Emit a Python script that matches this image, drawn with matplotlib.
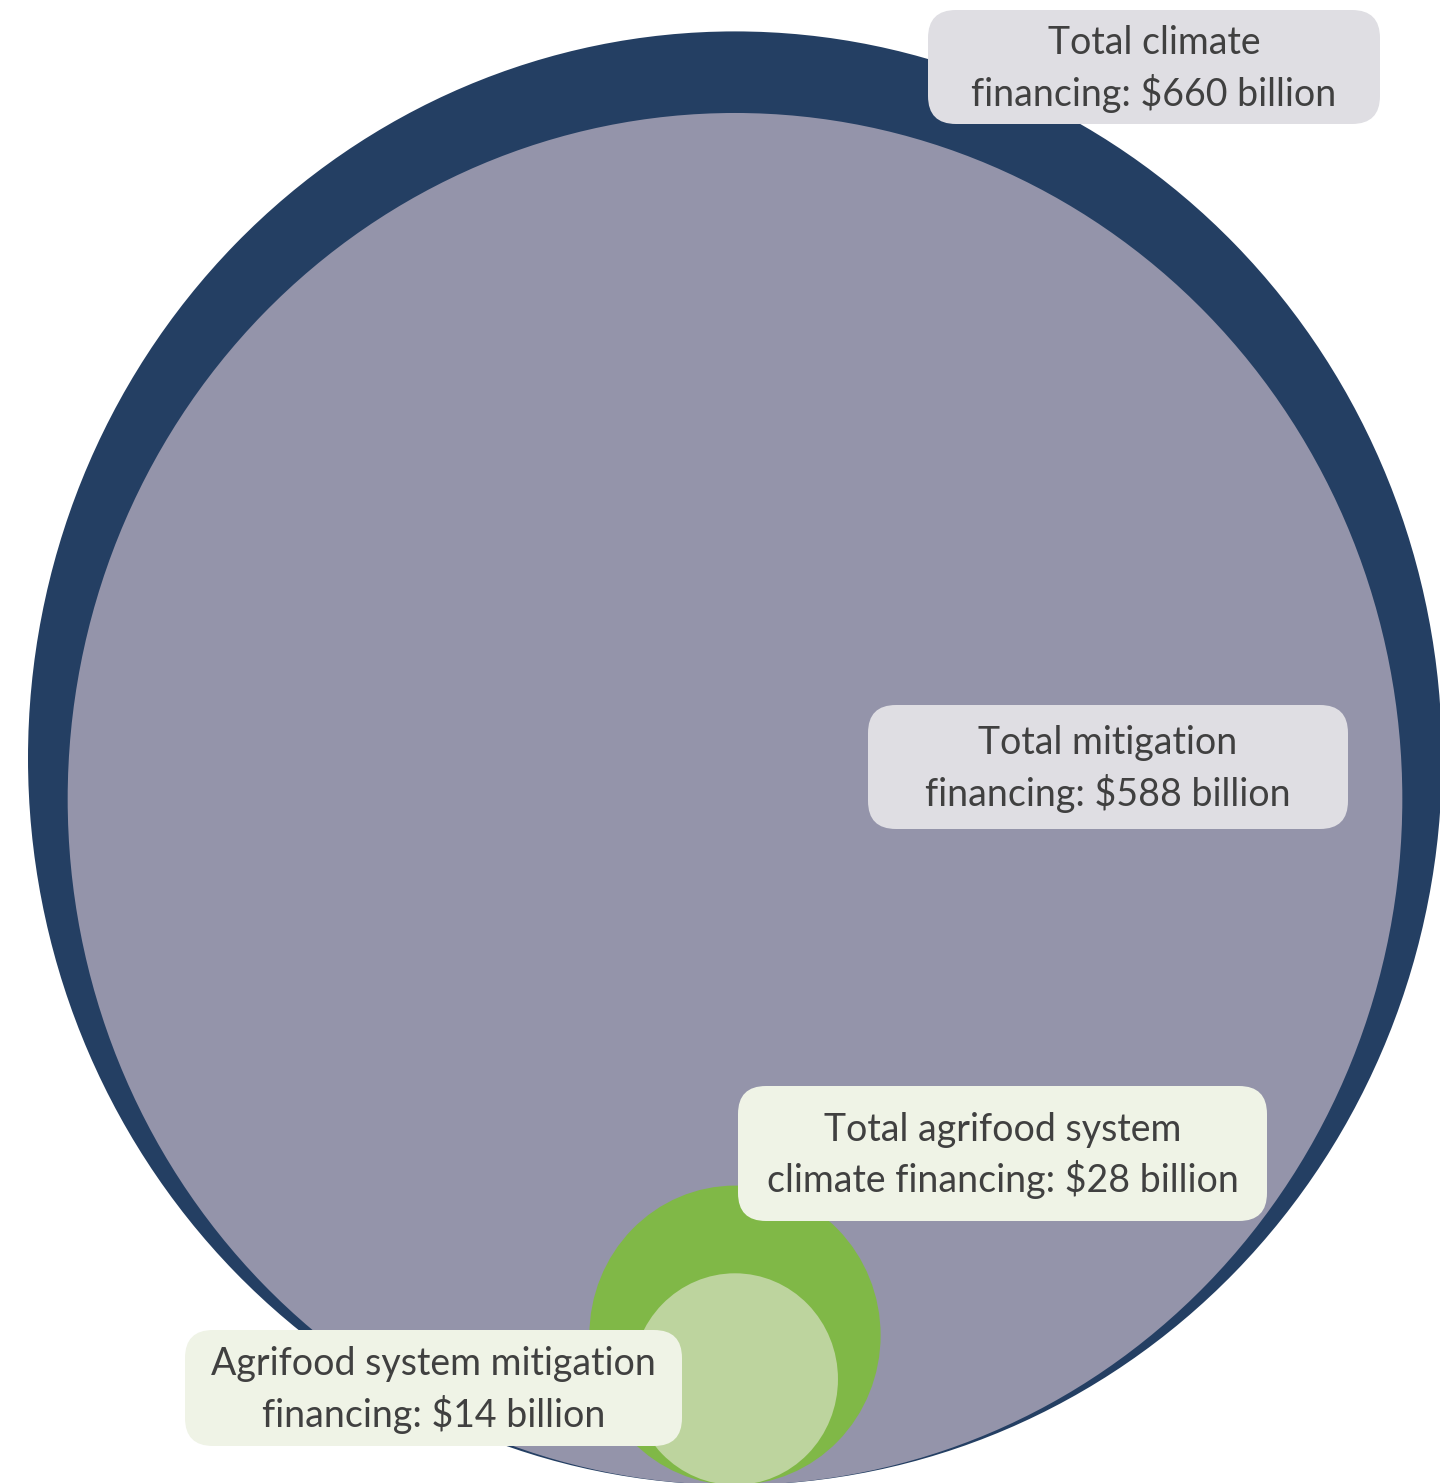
import numpy as np
import matplotlib.pyplot as plt
from matplotlib.patches import Ellipse, FancyBboxPatch

# financing amounts (billion USD)
names = ['Total climate financing', 'Total mitigation financing',
         'Total agrifood system climate financing', 'Agrifood system mitigation financing']
values = [660, 588, 28, 14]
labels = ['Total climate\nfinancing: $660 billion',
          'Total mitigation\nfinancing: $588 billion',
          'Total agrifood system\nclimate financing: $28 billion',
          'Agrifood system mitigation\nfinancing: $14 billion']
circle_colors = ['#243f63', '#9494aa', '#80b847', '#bdd49e']
box_colors = ['#dfdee3', '#dfdee3', '#eff3e6', '#eff3e6']
# label box placement (pixels): x0, y0, width, height
boxes = [(928, 10, 452, 114), (868, 705, 480, 124), (738, 1086, 529, 135), (185, 1330, 497, 116)]

W, H = 1440, 1483
fig = plt.figure(figsize=(W / 100, H / 100), dpi=100)
ax = fig.add_axes([0, 0, 1, 1])
ax.set_xlim(0, W)
ax.set_ylim(H, 0)
ax.axis('off')

# circles: area ~ value, all touching at the bottom
cx, bottom = 735, 1485
r_max = 707          # radius of largest circle in px
stretch = 1.028      # picture is slightly taller than wide
for v, c in zip(values, circle_colors):
    r = r_max * np.sqrt(v / values[0])
    ax.add_patch(Ellipse((cx, bottom - r * stretch), 2 * r, 2 * r * stretch,
                         facecolor=c, edgecolor='none'))

for lab, (x0, y0, w, h), bc in zip(labels, boxes, box_colors):
    ax.add_patch(FancyBboxPatch((x0 + 28, y0 + 28), w - 56, h - 56,
                                boxstyle='round,pad=28', facecolor=bc, edgecolor='none'))
    ax.text(x0 + w / 2, y0 + h / 2 + 2, lab, ha='center', va='center',
            fontsize=27, family='Lato', color='#404040', linespacing=1.4)

fig.savefig('out.png', dpi=100)
